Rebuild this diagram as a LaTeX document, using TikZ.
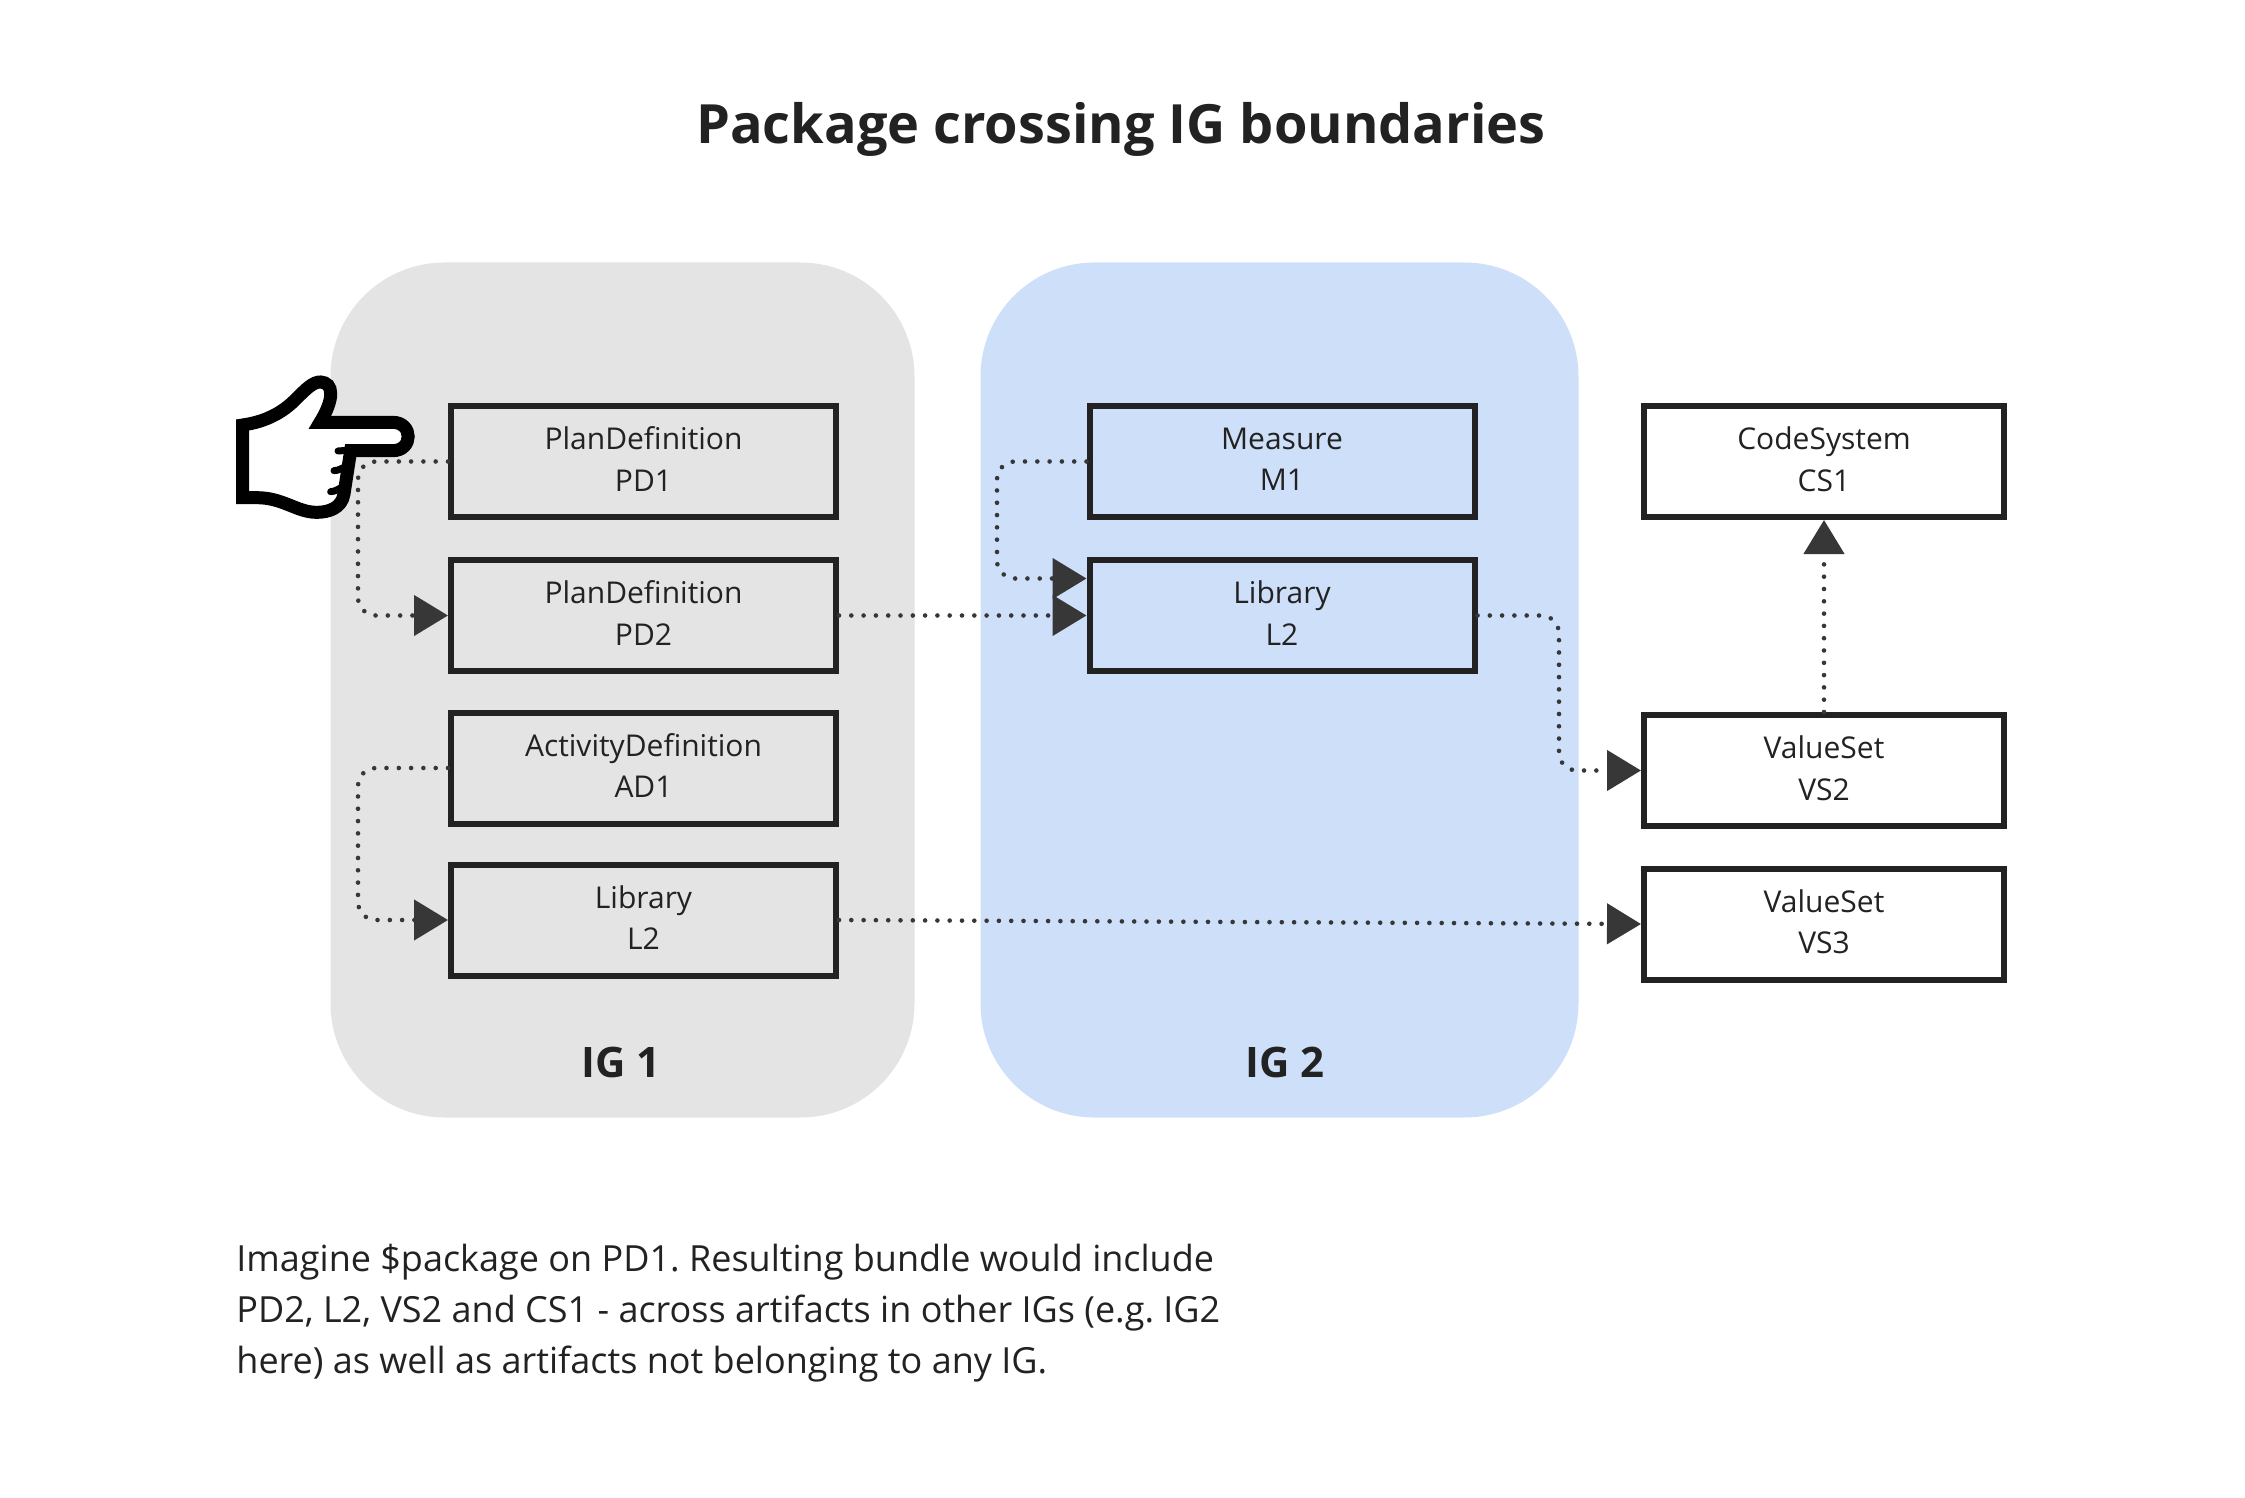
\documentclass[tikz,border=0pt]{standalone}
\usepackage{fontspec}
\setmainfont{Open Sans}
\usetikzlibrary{arrows.meta}
\definecolor{inkdark}{HTML}{222222}
\definecolor{tipdark}{HTML}{373737}
\definecolor{panelgrey}{HTML}{E4E4E4}
\definecolor{panelblue}{HTML}{CEDFF9}
\begin{document}
\begin{tikzpicture}[x=0.5pt,y=-0.5pt,
        ig panel/.style={rounded corners=57pt,minimum width=292pt,minimum height=427.5pt,inner sep=0pt,outer sep=0pt},
        artifact/.style={draw=inkdark,line width=3pt,minimum width=192.5pt,minimum height=55.5pt,
           inner sep=0pt,align=center,text=inkdark,text depth=2.4pt,font=\fontsize{15}{20.7}\selectfont},
        wide artifact/.style={artifact,minimum width=180pt},
        ig label/.style={text=inkdark,font=\fontsize{21}{25}\selectfont\bfseries},
        dep line/.style={draw=tipdark,line width=2.3pt,line cap=round,dash pattern=on 0pt off 6.15pt,rounded corners=9pt,
           -{Triangle[length=17pt,width=20pt,fill=tipdark,line cap=butt,sep=0pt]}},
    ]
    \useasboundingbox (0,0) rectangle (2245,1498);
    \draw
    	(622.5,690) node[ig panel,fill=panelgrey](ig1){}
    	(1279.5,690) node[ig panel,fill=panelblue,minimum width=299pt](ig2){}
    	(1121,129) node[text=inkdark,font=\fontsize{27.05}{30}\selectfont\bfseries](title){Package crossing IG boundaries}
    	(621,1062) node[ig label](ig1 label){IG 1}
    	(1285,1062) node[ig label](ig2 label){IG 2}
    	;
    \draw
    	(643.5,461.5) node[artifact](pd1){PlanDefinition\\PD1}
    	(643.5,615.5) node[artifact](pd2){PlanDefinition\\PD2}
    	(643.5,768) node[artifact](ad1){ActivityDefinition\\AD1}
    	(643.5,920) node[artifact](l2a){Library\\L2}
    	(1282,461.5) node[artifact](m1){Measure\\M1}
    	(1282,615.5) node[artifact](l2b){Library\\L2}
    	(1824,461.5) node[wide artifact](cs1){CodeSystem\\CS1}
    	(1824,770.5) node[wide artifact](vs2){ValueSet\\VS2}
    	(1824,924) node[wide artifact](vs3){ValueSet\\VS3}
    	;
    \coordinate (m1 in) at ([yshift=18.5pt]l2b.west);
    \draw[dep line] (pd1.west) -| (358,538) |- (pd2.west);
    \draw[dep line] (ad1.west) -| (358,844) |- (l2a.west);
    \draw[dep line] (m1.west) -| (997,520) |- (m1 in);
    \draw[dep line] (pd2.east) -- (l2b.west);
    \draw[dep line] (l2b.east) -| (1559,690) |- (vs2.west);
    \draw[dep line] (vs2.north) -- (cs1.south);
    \draw[dep line] (l2a.east) -- (vs3.west);
    % pointing hand
    \begin{scope}[shift={(200,340)},x=0.16667pt,y=-0.16667pt]
    	\draw[black,fill=white,line width=6.5pt,miter limit=6]
    		(128,255) .. controls (200,245) and (250,215) .. (285,180)
    		.. controls (320,145) and (340,125) .. (362,126)
    		.. controls (400,128) and (405,175) .. (360,247)
    		-- (578,247) .. controls (640,247) and (640,332) .. (578,332)
    		-- (452,332) -- (432,462)
    		.. controls (425,505) and (385,517) .. (350,517)
    		.. controls (290,517) and (250,473) .. (170,473)
    		-- (128,473) -- cycle;
    	\draw[black,line width=3.5pt,line cap=round]
    		(414,333) -- (455,330)
    		(402,392) .. controls (415,392) and (425,385) .. (440,378)
    		(392,455) .. controls (405,455) and (420,445) .. (432,437);
    \end{scope}
    \node[anchor=north west,align=left,inner sep=0pt,text=inkdark,font=\fontsize{18}{25.5}\selectfont\frenchspacing] (note) at (236,1244)
    	{Imagine \$package on PD1. Resulting bundle would include\\
    	PD2, L2, VS2 and CS1 - across artifacts in other IGs (e.g. IG2\\
    	here) as well as artifacts not belonging to any IG.};
\end{tikzpicture}
\end{document}
